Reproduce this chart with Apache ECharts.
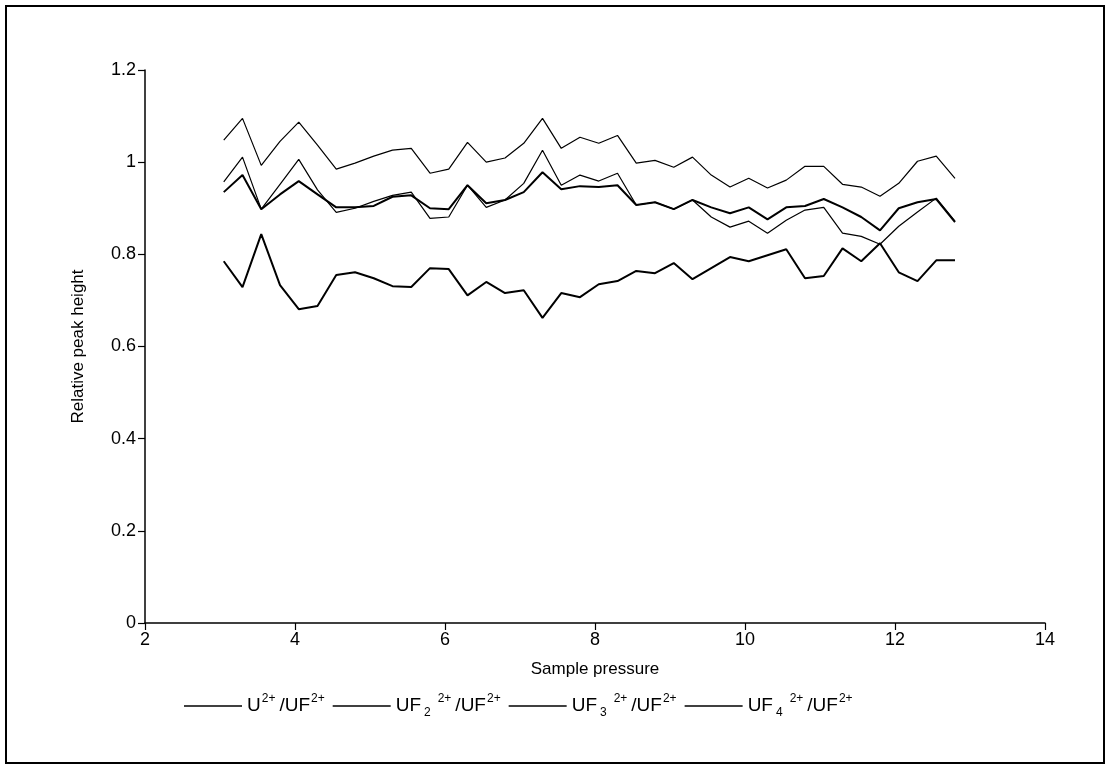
<!DOCTYPE html>
<html>
<head>
<meta charset="utf-8">
<script src="https://cdn.jsdelivr.net/npm/echarts@6/dist/echarts.min.js"></script>
<style>
html,body{margin:0;padding:0;background:#fff;}
#chart{width:1112px;height:769px;}
</style>
</head>
<body>
<div id="chart"></div>
<script>
// Sample pressure values (x)
const pressure = [3.05,3.3,3.55,3.8,4.05,4.3,4.55,4.8,5.05,5.3,5.55,5.8,6.05,6.3,6.55,6.8,7.05,7.3,7.55,7.8,8.05,8.3,8.55,8.8,9.05,9.3,9.55,9.8,10.05,10.3,10.55,10.8,11.05,11.3,11.55,11.8,12.05,12.3,12.55,12.8];

// Series names (plain) and their typeset legend labels
const seriesNames = ['U2+/UF2+','UF2 2+/UF2+','UF3 2+/UF2+','UF4 2+/UF2+'];
const legendLabels = [
  '{n|U}{sup|2+}{n|/UF}{sup|2+}',
  '{n|UF}{sub|2}{sup|2+}{n|/UF}{sup|2+}',
  '{n|UF}{sub|3}{sup|2+}{n|/UF}{sup|2+}',
  '{n|UF}{sub|4}{sup|2+}{n|/UF}{sup|2+}'
];

const u2 = [0.785,0.729,0.844,0.733,0.681,0.688,0.755,0.761,0.748,0.731,0.729,0.770,0.768,0.711,0.740,0.716,0.722,0.662,0.716,0.707,0.735,0.742,0.764,0.759,0.781,0.746,0.770,0.794,0.785,0.798,0.811,0.748,0.753,0.813,0.785,0.824,0.761,0.742,0.787,0.787];
const uf2 = [0.935,0.972,0.898,0.930,0.959,0.930,0.902,0.902,0.905,0.925,0.928,0.900,0.898,0.950,0.911,0.918,0.935,0.978,0.941,0.948,0.946,0.950,0.907,0.913,0.898,0.918,0.902,0.889,0.902,0.876,0.902,0.905,0.920,0.902,0.881,0.852,0.900,0.913,0.920,0.870];
const uf3 = [0.957,1.011,0.898,0.952,1.006,0.940,0.891,0.900,0.915,0.928,0.935,0.878,0.881,0.950,0.902,0.918,0.954,1.026,0.950,0.972,0.959,0.976,0.907,0.913,0.898,0.918,0.881,0.859,0.872,0.846,0.874,0.896,0.902,0.846,0.839,0.822,0.861,0.892,0.922,0.872];
const uf4 = [1.048,1.095,0.993,1.045,1.087,1.037,0.985,0.998,1.013,1.026,1.030,0.976,0.985,1.043,1.000,1.009,1.041,1.095,1.030,1.054,1.041,1.058,0.998,1.004,0.989,1.011,0.972,0.946,0.965,0.944,0.961,0.991,0.991,0.952,0.946,0.926,0.954,1.002,1.013,0.965];

const xTicks = {min:2, max:14, interval:2};
const yTicks = {min:0, max:1.2, interval:0.2};

const pair = (ys) => pressure.map((x, i) => [x, ys[i]]);
const widths = [2, 2, 1.2, 1.2];
const allData = [u2, uf2, uf3, uf4];

const chart = echarts.init(document.getElementById('chart'), null, {renderer:'canvas'});
const font = '"Liberation Sans Narrow","Liberation Sans",Arial,sans-serif';
const lfont = '"Liberation Sans",Arial,sans-serif';
chart.setOption({
  backgroundColor:'#fff',
  animation:false,
  graphic:[{type:'rect', shape:{x:6,y:6,width:1098,height:757}, style:{fill:'none',stroke:'#000',lineWidth:2}}],
  grid:{left:145, right:67, top:70, bottom:146},
  legend:{
    left:179, top:688, icon:'rect', itemWidth:58, itemHeight:1.5, itemGap:4,
    formatter: (name) => legendLabels[seriesNames.indexOf(name)],
    textStyle:{
      color:'#000', fontSize:19, fontFamily:lfont,
      rich:{
        n:{fontSize:19, fontFamily:lfont, color:'#000', lineHeight:26, verticalAlign:'middle'},
        sup:{fontSize:12, fontFamily:lfont, color:'#000', lineHeight:26, verticalAlign:'top', padding:[0,4,0,1]},
        sub:{fontSize:12, fontFamily:lfont, color:'#000', lineHeight:26, verticalAlign:'bottom', padding:[0,6,0,3]}
      }
    },
    data:seriesNames
  },
  xAxis:{
    type:'value', min:xTicks.min, max:xTicks.max, interval:xTicks.interval,
    name:'Sample pressure', nameLocation:'middle', nameGap:38,
    nameTextStyle:{color:'#000', fontSize:17, fontFamily:font},
    axisLine:{onZero:false, lineStyle:{color:'#000', width:1.5}},
    axisTick:{length:7, lineStyle:{color:'#000', width:1.2}},
    axisLabel:{color:'#000', fontSize:18, fontFamily:font, margin:8},
    splitLine:{show:false}
  },
  yAxis:{
    type:'value', min:yTicks.min, max:yTicks.max, interval:yTicks.interval,
    name:'Relative peak height', nameLocation:'middle', nameGap:58,
    nameTextStyle:{color:'#000', fontSize:17, fontFamily:font},
    axisLine:{lineStyle:{color:'#000', width:1.5}},
    axisTick:{length:7, lineStyle:{color:'#000', width:1.2}},
    axisLabel:{color:'#000', fontSize:18, fontFamily:font, margin:9},
    splitLine:{show:false}
  },
  series: allData.map((d, i) => ({
    name: seriesNames[i], type:'line', data: pair(d),
    symbol:'none', showSymbol:false,
    lineStyle:{color:'#000', width:widths[i]},
    itemStyle:{color:'#000'}
  }))
});
</script>
</body>
</html>
